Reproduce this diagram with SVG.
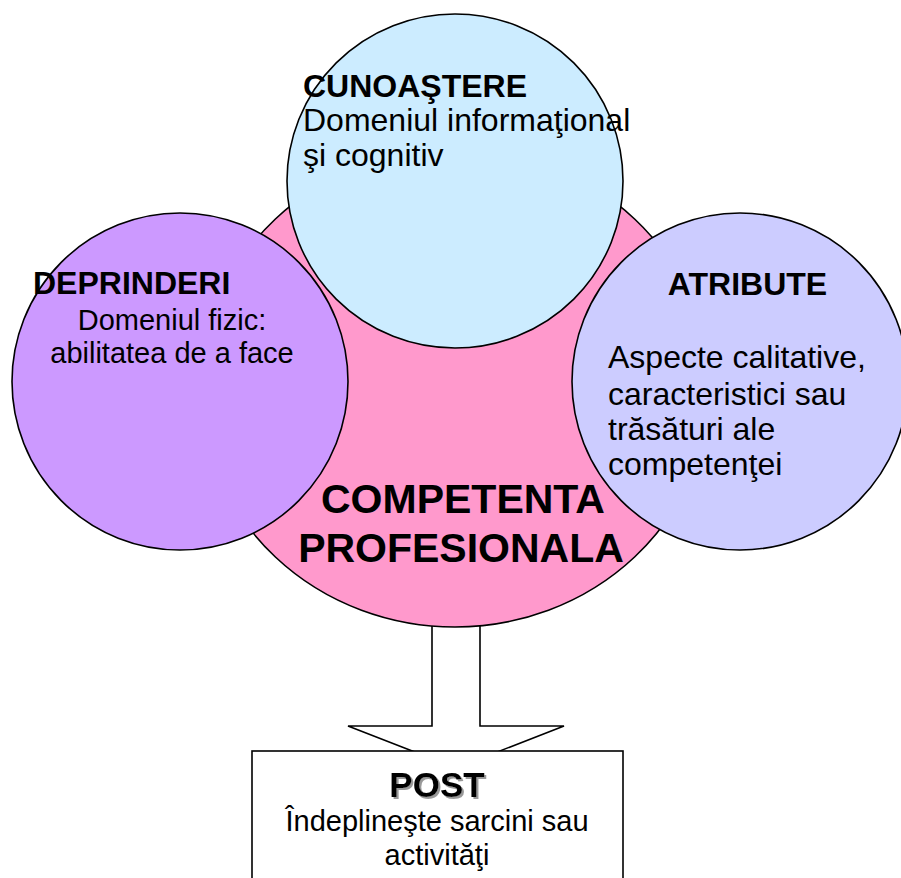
<svg xmlns="http://www.w3.org/2000/svg" width="901" height="878" viewBox="0 0 901 878">
<defs>
<filter id="shadow" x="-10%" y="-10%" width="130%" height="130%">
<feOffset in="SourceAlpha" dx="2" dy="2" result="off"/>
<feFlood flood-color="#999999"/>
<feComposite in2="off" operator="in" result="sh"/>
<feMerge><feMergeNode in="sh"/><feMergeNode in="SourceGraphic"/></feMerge>
</filter>
</defs>
<style>
.shape{stroke:#000;stroke-width:1.6}
text{font-family:"Liberation Sans",Arial,Helvetica,sans-serif;fill:#000}
.h{font-weight:bold;font-size:32px}
.b{font-size:32px}
.s{font-size:29px}
.big{font-weight:bold;font-size:41px}
.mid{text-anchor:middle}
</style>
<rect width="901" height="878" fill="#fff"/>
<g id="connectors">
<polygon class="shape" fill="#fff" points="432,600 432,726 348,726 456,768 564,726 480,726 480,600"/>
</g>
<g id="competenta">
<ellipse class="shape" fill="#FF99CC" cx="455" cy="388" rx="254" ry="239"/>
</g>
<g id="cunoastere">
<ellipse class="shape" fill="#CCECFF" cx="455" cy="181" rx="168" ry="167"/>
</g>
<g id="deprinderi">
<ellipse class="shape" fill="#CC99FF" cx="180" cy="381.5" rx="168" ry="168.5"/>
</g>
<g id="atribute">
<ellipse class="shape" fill="#CCCCFF" cx="740" cy="381.5" rx="168" ry="168.5"/>
</g>
<g id="post">
<rect class="shape" fill="#fff" x="252" y="751" width="371" height="140"/>
</g>
<g id="labels">
<text class="h" x="303" y="97">CUNOAŞTERE</text>
<text class="b" x="303" y="131">Domeniul informaţional</text>
<text class="b" x="303" y="166">şi cognitiv</text>
<text class="h" x="33" y="294">DEPRINDERI</text>
<text class="s mid" x="172" y="330">Domeniul fizic:</text>
<text class="s mid" x="172" y="363">abilitatea de a face</text>
<text class="h mid" x="747.5" y="295">ATRIBUTE</text>
<text class="b" x="608" y="368">Aspecte calitative,</text>
<text class="b" x="608" y="405">caracteristici sau</text>
<text class="b" x="608" y="440">trăsături ale</text>
<text class="b" x="608" y="475">competenţei</text>
<text class="big mid" x="463" y="513">COMPETENTA</text>
<text class="big mid" x="461" y="562">PROFESIONALA</text>
<text class="mid" x="437" y="797" filter="url(#shadow)" style="font-weight:bold;font-size:35px">POST</text>
<text class="s mid" x="437" y="831">Îndeplineşte sarcini sau</text>
<text class="s mid" x="437" y="865">activităţi</text>
</g>
</svg>
